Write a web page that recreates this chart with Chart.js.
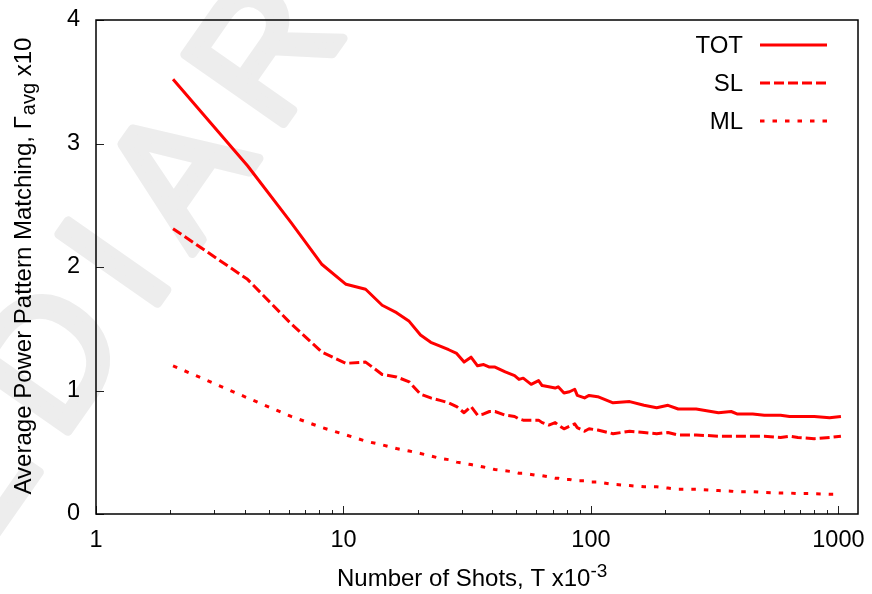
<!DOCTYPE html>
<html>
<head>
<meta charset="utf-8">
<title>Average Power Pattern Matching</title>
<script src="https://cdn.jsdelivr.net/npm/chart.js@4.4.1/dist/chart.umd.min.js"></script>
<style>
    html, body { margin: 0; padding: 0; background: #fff; }
    #wrap { width: 872px; height: 594px; }
</style>
</head>
<body>
<div id="wrap"><canvas id="main-chart" width="872" height="594"></canvas></div>
<script>
// Number of shots (x10^3)
const shots = [
    2.048, 4.096, 6.144, 8.192, 10.24, 12.288, 14.336, 16.384, 18.432, 20.48,
    22.528, 24.576, 26.624, 28.672, 30.72, 32.768, 34.816, 36.864, 38.912, 40.96,
    45.056, 49.152, 51.2, 53.248, 57.344, 61.44, 63.488, 67.584, 71.68, 73.728,
    77.824, 81.92, 86.016, 88.064, 94.208, 98.304, 106.496, 122.88, 143.36, 163.84,
    184.32, 204.8, 225.28, 266.24, 327.68, 368.64, 389.12, 450.56, 501.76, 583.68,
    634.88, 686.08, 798.72, 921.6, 1024
];

const totValues = [
    3.52, 2.82, 2.36, 2.02, 1.86, 1.82, 1.69, 1.63, 1.56, 1.45,
    1.39, 1.36, 1.33, 1.30, 1.23, 1.27, 1.20, 1.21, 1.19, 1.19,
    1.15, 1.12, 1.09, 1.10, 1.05, 1.08, 1.04, 1.03, 1.02, 1.03,
    0.98, 0.99, 1.01, 0.96, 0.94, 0.96, 0.95, 0.90, 0.91, 0.88,
    0.86, 0.88, 0.85, 0.85, 0.82, 0.83, 0.81, 0.81, 0.80, 0.80,
    0.79, 0.79, 0.79, 0.78, 0.79
];

const slValues = [
    2.31, 1.90, 1.54, 1.31, 1.22, 1.23, 1.13, 1.11, 1.07, 0.97,
    0.94, 0.92, 0.90, 0.87, 0.82, 0.87, 0.80, 0.81, 0.83, 0.83,
    0.80, 0.79, 0.77, 0.76, 0.76, 0.76, 0.74, 0.72, 0.74, 0.72,
    0.69, 0.71, 0.73, 0.70, 0.67, 0.69, 0.68, 0.65, 0.67, 0.66,
    0.65, 0.66, 0.64, 0.64, 0.63, 0.63, 0.63, 0.63, 0.63, 0.62,
    0.63, 0.62, 0.61, 0.62, 0.63
];

const mlValues = [
    1.20, 0.94, 0.79, 0.70, 0.64, 0.59, 0.56, 0.53, 0.51, 0.49,
    0.47, 0.45, 0.44, 0.42, 0.41, 0.40, 0.39, 0.38, 0.37, 0.36,
    0.35, 0.34, 0.33, 0.33, 0.32, 0.31, 0.31, 0.30, 0.29, 0.29,
    0.28, 0.28, 0.27, 0.27, 0.27, 0.26, 0.26, 0.24, 0.23, 0.22,
    0.22, 0.21, 0.20, 0.20, 0.19, 0.185, 0.18, 0.18, 0.175, 0.17,
    0.17, 0.165, 0.165, 0.16, 0.16
];

const seriesLabels = ["TOT", "SL", "ML"];
const xTickLabels = [1, 10, 100, 1000];
const watermarkText = "INTERMEDIARY";

const FONT = '"Liberation Sans", Arial, Helvetica, sans-serif';
const RED = "#ff0000";

function toPoints(values) {
    return shots.map((x, i) => ({ x: x, y: values[i] }));
}

// Frame, inward ticks, axis titles, legend and watermark (gnuplot look)
const gnuplotDecor = {
    id: "gnuplotDecor",
    beforeDraw(chart) {
        const ctx = chart.ctx;
        ctx.save();
        ctx.font = "175px " + FONT;
        ctx.letterSpacing = "28px";
        ctx.fillStyle = "#ededed";
        ctx.strokeStyle = "#ededed";
        ctx.lineWidth = 9;
        ctx.lineJoin = "round";
        ctx.lineCap = "round";
        const before = ctx.measureText("INTERMED").width + 25;
        ctx.translate(111, 260);
        ctx.rotate(-55 * Math.PI / 180);
        ctx.fillText(watermarkText, -before, 63);
        ctx.strokeText(watermarkText, -before, 63);
        ctx.restore();
    },
    afterDraw(chart) {
        const ctx = chart.ctx;
        const area = chart.chartArea;
        const xs = chart.scales.x;
        const ys = chart.scales.y;

        ctx.save();
        // tick marks
        ctx.strokeStyle = "#222";
        ctx.lineWidth = 1;
        ctx.beginPath();
        for (let d = 1; d <= 1000; d *= 10) {
            for (let m = 1; m <= 9; m++) {
                const v = m * d;
                if (v > xs.max) break;
                const px = Math.round(xs.getPixelForValue(v)) + 0.5;
                const len = m === 1 ? 8 : 4;
                ctx.moveTo(px, area.bottom);
                ctx.lineTo(px, area.bottom - len);
            }
        }
        for (let v = 0; v <= 4; v++) {
            const py = Math.round(ys.getPixelForValue(v)) + 0.5;
            ctx.moveTo(area.left, py);
            ctx.lineTo(area.left + 8, py);
        }
        ctx.stroke();

        // frame
        ctx.strokeStyle = "#000";
        ctx.lineWidth = 1.5;
        ctx.strokeRect(area.left, area.top, area.right - area.left, area.bottom - area.top);

        // x axis title with superscript
        ctx.fillStyle = "#000";
        ctx.textAlign = "left";
        ctx.textBaseline = "alphabetic";
        ctx.font = "24px " + FONT;
        const xMain = "Number of Shots, T x10";
        const xW = ctx.measureText(xMain).width;
        ctx.fillText(xMain, 337, 586);
        ctx.font = "19px " + FONT;
        ctx.fillText("-3", 337 + xW, 577);

        // y axis title with subscript
        ctx.save();
        ctx.translate(31, 266.5);
        ctx.rotate(-Math.PI / 2);
        ctx.font = "24px " + FONT;
        const y1 = "Average Power Pattern Matching, \u0393";
        const y3 = " x10";
        const w1 = ctx.measureText(y1).width;
        const w3 = ctx.measureText(y3).width;
        ctx.font = "20px " + FONT;
        const w2 = ctx.measureText("avg").width;
        const start = -(w1 + w2 + w3) / 2;
        ctx.font = "24px " + FONT;
        ctx.fillText(y1, start, 0);
        ctx.font = "20px " + FONT;
        ctx.fillText("avg", start + w1 + 1, 4);
        ctx.font = "24px " + FONT;
        ctx.fillText(y3, start + w1 + w2 + 1, 0);
        ctx.restore();

        // legend
        ctx.font = "24px " + FONT;
        ctx.textAlign = "right";
        ctx.textBaseline = "middle";
        chart.data.datasets.forEach((ds, i) => {
            const y = 45 + i * 38;
            ctx.fillStyle = "#000";
            ctx.fillText(ds.label, 743, y + 1);
            ctx.strokeStyle = ds.borderColor;
            ctx.lineWidth = ds.borderWidth;
            ctx.setLineDash(ds.borderDash || []);
            ctx.beginPath();
            ctx.moveTo(760, y);
            ctx.lineTo(827, y);
            ctx.stroke();
        });
        ctx.restore();
    },
};

function averagePowerChart() {
    const chartCanvas = document.getElementById("main-chart");

    if (!chartCanvas) {
        return;
    }

    new Chart(chartCanvas, {
        type: "line",
        data: {
            datasets: [
                {
                    label: seriesLabels[0],
                    data: toPoints(totValues),
                    borderColor: RED,
                    borderWidth: 3,
                    borderDash: [],
                },
                {
                    label: seriesLabels[1],
                    data: toPoints(slValues),
                    borderColor: RED,
                    borderWidth: 3,
                    borderDash: [10, 4],
                },
                {
                    label: seriesLabels[2],
                    data: toPoints(mlValues),
                    borderColor: RED,
                    borderWidth: 3,
                    borderDash: [4.5, 8],
                },
            ],
        },
        options: {
            responsive: false,
            animation: false,
            events: [],
            elements: {
                point: { radius: 0 },
                line: { tension: 0, fill: false, borderJoinStyle: "round" },
            },
            layout: {
                padding: { top: 20, right: 14, bottom: 0, left: 0 },
            },
            plugins: {
                legend: { display: false },
                tooltip: { enabled: false },
            },
            scales: {
                x: {
                    type: "logarithmic",
                    min: 1,
                    max: 1200,
                    grid: { display: false, drawTicks: false },
                    border: { display: false },
                    afterFit(scale) {
                        scale.height = 80;
                        scale.paddingLeft = 0;
                        scale.paddingRight = 0;
                    },
                    ticks: {
                        autoSkip: false,
                        maxRotation: 0,
                        minRotation: 0,
                        padding: 12,
                        color: "#000",
                        font: { family: FONT, size: 23.5 },
                        callback: (value) => (xTickLabels.includes(value) ? String(value) : ""),
                    },
                },
                y: {
                    min: 0,
                    max: 4,
                    grid: { display: false, drawTicks: false },
                    border: { display: false },
                    afterFit(scale) {
                        scale.width = 96;
                        scale.paddingTop = 0;
                        scale.paddingBottom = 0;
                    },
                    ticks: {
                        stepSize: 1,
                        padding: 16,
                        color: "#000",
                        font: { family: FONT, size: 23.5 },
                    },
                },
            },
        },
        plugins: [gnuplotDecor],
    });
}

averagePowerChart();
</script>
</body>
</html>
